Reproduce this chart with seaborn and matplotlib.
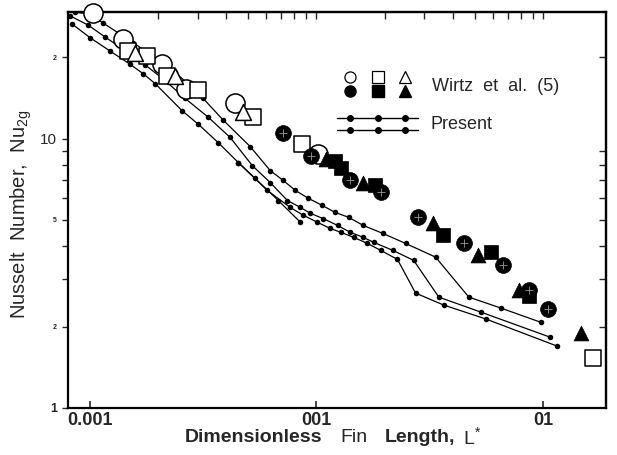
import matplotlib
matplotlib.use('Agg')
import matplotlib.pyplot as plt
import pandas as pd
import seaborn as sns
from matplotlib.lines import Line2D

# "Present" predictions - three curves and one short branch
top_L = [0.00086, 0.00098, 0.00114, 0.00133, 0.00155, 0.00181, 0.00204, 0.00238,
         0.00277, 0.00316, 0.00388, 0.0051, 0.00625, 0.00714, 0.00807, 0.00922,
         0.0106, 0.0121, 0.0139, 0.0161, 0.0196, 0.0248, 0.0336, 0.0471, 0.0652, 0.098]
top_Nu = [29.5, 29.0, 26.9, 24.7, 22.7, 20.8, 19.4, 17.6, 15.7, 14.1, 11.7, 9.34,
          7.61, 6.99, 6.42, 6.0, 5.65, 5.32, 5.10, 4.76, 4.45, 4.08, 3.63, 2.58, 2.35, 2.08]

mid_L = [0.00082, 0.00098, 0.00116, 0.00143, 0.00175, 0.00215, 0.00263, 0.00333,
         0.00416, 0.00521, 0.00625, 0.00745, 0.0085, 0.0094, 0.0107, 0.0124, 0.0141,
         0.0161, 0.0179, 0.0217, 0.0269, 0.0347, 0.0532, 0.108]
mid_Nu = [28.5, 26.4, 23.9, 21.2, 18.8, 16.4, 14.1, 12.0, 10.1, 7.94, 6.87, 5.89,
          5.55, 5.28, 5.05, 4.76, 4.49, 4.30, 4.12, 3.85, 3.53, 2.58, 2.27, 1.83]

low_L = [0.00083, 0.001, 0.00122, 0.0015, 0.00172, 0.00194, 0.00255, 0.00301,
         0.00368, 0.00452, 0.00607, 0.00767, 0.00876, 0.0101, 0.0115, 0.0128, 0.0146,
         0.0168, 0.0192, 0.0228, 0.0274, 0.0365, 0.056, 0.115]
low_Nu = [26.7, 23.7, 21.2, 18.9, 17.4, 16.0, 12.7, 11.3, 9.67, 8.15, 6.42, 5.55,
          5.19, 4.89, 4.64, 4.49, 4.30, 4.08, 3.85, 3.56, 2.67, 2.41, 2.14, 1.70]

branch_L = [0.00452, 0.00537, 0.00679, 0.0085]
branch_Nu = [8.15, 7.11, 5.89, 4.89]

# Wirtz et al. (5) - experimental points
open_circle_L = [0.00103, 0.0014, 0.00209, 0.00266, 0.00438, 0.0102]
open_circle_Nu = [29.3, 23.5, 18.9, 15.3, 13.5, 8.8]
open_square_L = [0.00147, 0.00179, 0.00219, 0.00301, 0.00526, 0.00867, 0.166]
open_square_Nu = [21.2, 20.3, 17.1, 15.1, 12.0, 9.58, 1.53]
open_tri_L = [0.00158, 0.00238, 0.00475]
open_tri_Nu = [20.8, 17.1, 12.6]

fill_circle_L = [0.00714, 0.00951, 0.0141, 0.0192, 0.028, 0.0447, 0.0665, 0.0867, 0.105]
fill_circle_Nu = [10.5, 8.65, 6.99, 6.31, 5.10, 4.08, 3.38, 2.74, 2.33]
fill_square_L = [0.0121, 0.0129, 0.0182, 0.0361, 0.0589, 0.0867]
fill_square_Nu = [8.29, 7.81, 6.70, 4.37, 3.78, 2.60]
fill_tri_L = [0.011, 0.016, 0.0326, 0.0515, 0.0783, 0.147]
fill_tri_Nu = [8.43, 6.87, 4.84, 3.69, 2.74, 1.90]

x_ticks = [0.001, 0.01, 0.1]
x_tick_labels = ['0.001', '001', '01']
y_ticks = [1, 2, 5, 10, 20]
y_tick_labels = ['1', '2', '5', '10', '2']

sns.set_style('ticks')
plt.rcParams['font.family'] = ['Liberation Sans', 'DejaVu Sans']

fig = plt.figure(figsize=(6.17, 4.55), dpi=100)
ax = fig.add_axes([68 / 617, 1 - 408 / 455, 538 / 617, 396 / 455])
ax.set_xscale('log')
ax.set_yscale('log')

present = pd.concat([
    pd.DataFrame({'L': top_L, 'Nu': top_Nu, 'curve': 'top'}),
    pd.DataFrame({'L': mid_L, 'Nu': mid_Nu, 'curve': 'mid'}),
    pd.DataFrame({'L': low_L, 'Nu': low_Nu, 'curve': 'low'}),
    pd.DataFrame({'L': branch_L, 'Nu': branch_Nu, 'curve': 'branch'}),
])
sns.lineplot(data=present, x='L', y='Nu', units='curve', estimator=None, sort=False,
             color='black', lw=0.9, marker='o', markersize=4, markeredgewidth=0,
             ax=ax, legend=False)

# open symbols
for xs, ys, m, s in [(open_circle_L, open_circle_Nu, 'o', 190),
                     (open_square_L, open_square_Nu, 's', 130),
                     (open_tri_L, open_tri_Nu, '^', 130)]:
    sns.scatterplot(x=xs, y=ys, marker=m, s=s, color='white', edgecolor='black',
                    linewidth=1.1, ax=ax, zorder=4, clip_on=False)

# filled symbols
for xs, ys, m, s in [(fill_circle_L, fill_circle_Nu, 'o', 130),
                     (fill_square_L, fill_square_Nu, 's', 105),
                     (fill_tri_L, fill_tri_Nu, '^', 115)]:
    sns.scatterplot(x=xs, y=ys, marker=m, s=s, color='black', edgecolor='black',
                    linewidth=0.5, ax=ax, zorder=5, clip_on=False)
sns.scatterplot(x=fill_circle_L, y=fill_circle_Nu, marker='+', s=28, color='#9a9a9a',
                linewidth=0.6, ax=ax, zorder=6)

ax.set_xlim(0.0008, 0.19)
ax.set_ylim(1, 29.5)

# axes ticks: left out, right/top/bottom in
ax.set_xticks(x_ticks)
ax.set_xticklabels(x_tick_labels, fontsize=13, fontweight='bold')
ax.xaxis.set_minor_locator(matplotlib.ticker.NullLocator())
ax.tick_params(axis='x', which='major', direction='in', length=5, width=1.2, pad=3)
ax.set_yticks(y_ticks)
ax.set_yticks([3, 4, 6, 7, 8, 9], minor=True)
ax.yaxis.set_minor_formatter(matplotlib.ticker.NullFormatter())
ax.set_yticklabels(y_tick_labels)
ax.tick_params(axis='y', which='both', direction='out', length=4, width=1.0, pad=4)
for lab, fs, fw in zip(ax.get_yticklabels(), [9, 5, 5, 11, 5],
                       ['bold', 'bold', 'bold', 'normal', 'bold']):
    lab.set_fontsize(fs)
    lab.set_fontweight(fw)

top = ax.secondary_xaxis('top')
top.set_xticks([k * 10.0 ** e for e in (-3, -2) for k in range(1, 10)] + [0.1])
top.tick_params(direction='in', length=5, width=1.0, labeltop=False)
top.xaxis.set_minor_locator(matplotlib.ticker.NullLocator())
right = ax.secondary_yaxis('right')
right.set_yticks([k * 10.0 ** e for e in (0, 1) for k in range(2, 10)])
right.tick_params(direction='in', length=5, width=1.0, labelright=False)
right.yaxis.set_minor_locator(matplotlib.ticker.NullLocator())

for sp in ['left', 'bottom', 'top', 'right']:
    ax.spines[sp].set_linewidth(1.6)
    ax.spines[sp].set_color('black')
top.spines['top'].set_linewidth(1.6)
right.spines['right'].set_linewidth(1.6)

ax.set_xlabel('')
ax.set_ylabel('')

# legend drawn by hand
tr = ax.transAxes
for xl, m in [(0.524, 'o'), (0.576, 's'), (0.626, '^')]:
    ax.add_line(Line2D([xl], [0.835], transform=tr, marker=m, ms=8, mfc='white',
                       mec='black', mew=0.9, ls='none'))
    ax.add_line(Line2D([xl], [0.800], transform=tr, marker=m, ms=8, mfc='black',
                       mec='black', ls='none'))
ax.text(0.677, 0.812, 'Wirtz  et  al.  (5)', transform=tr, fontsize=13, va='center')
for yl in [0.733, 0.703]:
    ax.add_line(Line2D([0.50, 0.65], [yl, yl], transform=tr, color='black', lw=1.0))
    ax.add_line(Line2D([0.524, 0.576, 0.626], [yl] * 3, transform=tr, color='black',
                       marker='o', ms=4, ls='none'))
ax.text(0.673, 0.716, 'Present', transform=tr, fontsize=13, va='center')

# axis titles
fig.text(21 / 617, 1 - 214 / 455, 'Nusselt  Number,  Nu$_\\mathregular{2g}$',
         rotation=90, fontsize=14.5, ha='center', va='center')
yb = 1 - 438 / 455
fig.text(185 / 617, yb, 'Dimensionless', fontsize=14, fontweight='bold', va='center')
fig.text(340 / 617, yb, 'Fin', fontsize=14, va='center')
fig.text(385 / 617, yb, 'Length,', fontsize=14, fontweight='bold', va='center')
fig.text(463 / 617, yb, 'L$^\\mathregular{*}$', fontsize=14, va='center')

fig.savefig('out.png', dpi=100, facecolor='white')
